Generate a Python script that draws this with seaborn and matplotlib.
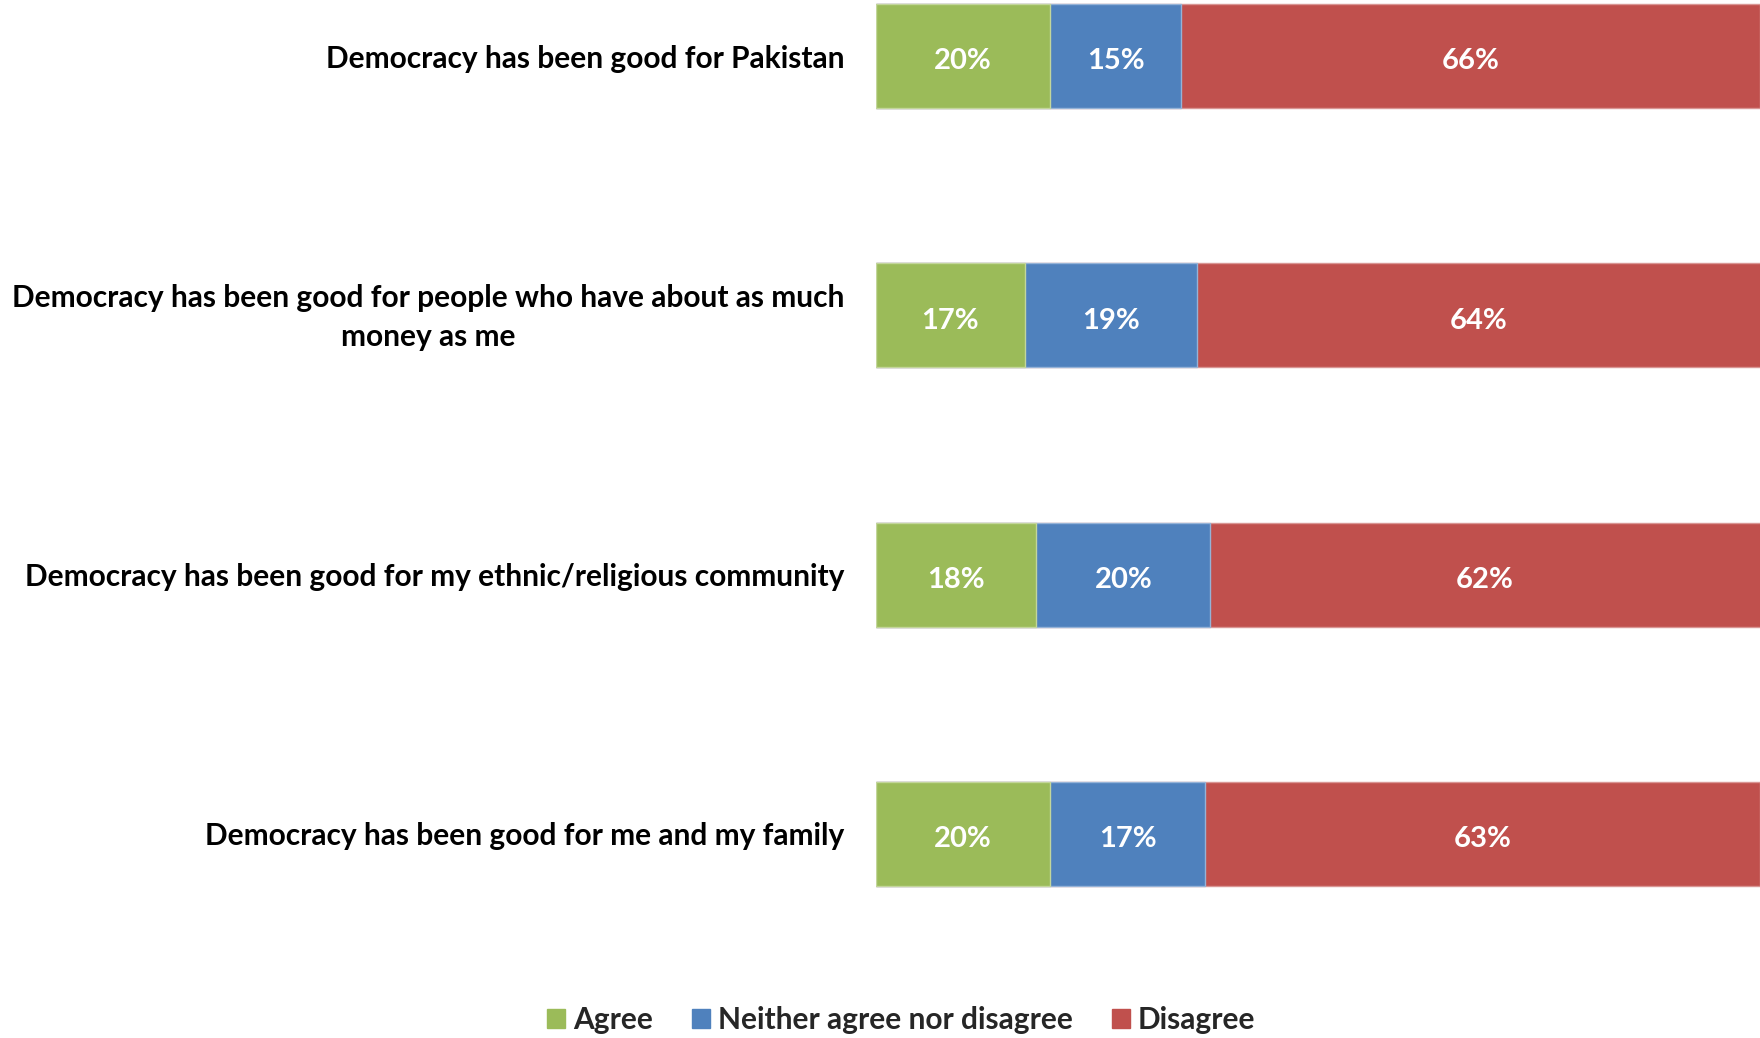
import matplotlib
matplotlib.use("Agg")
import matplotlib.pyplot as plt
import matplotlib.patches as mpatches
import matplotlib.transforms as mtransforms
import seaborn as sns
import numpy as np
import pandas as pd

categories = [
    "Democracy has been good for Pakistan",
    "Democracy has been good for people who have about as much\nmoney as me",
    "Democracy has been good for my ethnic/religious community",
    "Democracy has been good for me and my family",
]
series_names = ["Agree", "Neither agree nor disagree", "Disagree"]
agree = [19.9, 17.0, 18.3, 19.9]
neither = [15.0, 19.7, 19.9, 17.7]
disagree = [66.1, 64.4, 62.9, 63.4]
agree_labels = ["20%", "17%", "18%", "20%"]
neither_labels = ["15%", "19%", "20%", "17%"]
disagree_labels = ["66%", "64%", "62%", "63%"]

colors = ["#9BBB59", "#4F81BD", "#C0504D"]
edge_colors = ["#C3D69B", "#95B3D7", "#D99694"]

sns.set_theme(style="white")
plt.rcParams["font.family"] = ["Lato", "DejaVu Sans"]

fig = plt.figure(figsize=(17.6, 10.38), dpi=100)
ax = fig.add_axes([876 / 1760, 1 - 960 / 1038, 884 / 1760, 960 / 1038])

a = np.array(agree)
n = np.array(neither)
d = np.array(disagree)
cum_layers = [a + n + d, a + n, a]
layer_colors = [colors[2], colors[1], colors[0]]
layer_edges = [edge_colors[2], edge_colors[1], edge_colors[0]]
for vals, c, ec in zip(cum_layers, layer_colors, layer_edges):
    df = pd.DataFrame({"cat": categories, "val": vals})
    sns.barplot(data=df, x="val", y="cat", orient="h", color=c, width=0.4,
                edgecolor=ec, linewidth=1.0, saturation=1, ax=ax)

starts = [np.zeros(4), a, a + n]
widths = [a, n, d]
labels = [agree_labels, neither_labels, disagree_labels]
for s, w, lab in zip(starts, widths, labels):
    for i in range(4):
        x = s[i] + min(w[i], 101 - s[i]) / 2
        ax.text(x, i + 0.02, lab[i], ha="center", va="center", color="white",
                fontsize=21, fontweight="bold")

ax.set_xlim(0, 101)
ax.set_ylim(3.486, -0.216)
ax.set_xlabel("")
ax.set_ylabel("")
ax.set_xticks([])
for sp in ax.spines.values():
    sp.set_visible(False)
ax.tick_params(axis="y", length=0, pad=23)
for t in ax.get_yticklabels():
    t.set_fontsize(21.5)
    t.set_fontweight("bold")
    t.set_multialignment("center")
    t.set_linespacing(1.45)
    t.set_color("black")
    if "\n" in t.get_text():
        t.set_transform(t.get_transform() +
                        mtransforms.ScaledTranslation(0, 0.055, fig.dpi_scale_trans))

handles = [mpatches.Patch(facecolor=c, edgecolor=c) for c in colors]
fig.legend(handles, series_names, loc="center", bbox_to_anchor=(0.512, 1 - 1020 / 1038),
           ncol=3, frameon=False, handlelength=0.6, handleheight=0.6,
           handletextpad=0.28, columnspacing=1.3,
           prop={"size": 21.5, "weight": "bold"})

fig.savefig("out.png", dpi=100)
